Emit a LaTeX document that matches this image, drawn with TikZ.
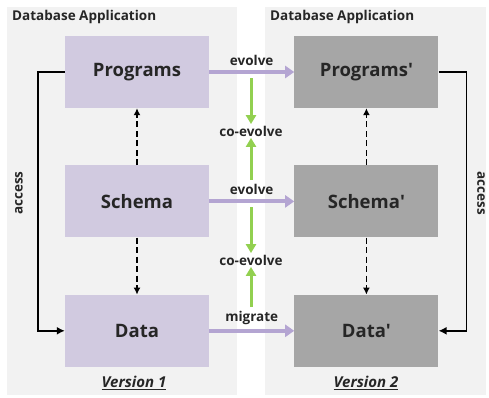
\documentclass[tikz,border=0pt]{standalone}
\usepackage{fontspec}
\setmainfont{Open Sans}
\usetikzlibrary{positioning,arrows.meta}
\definecolor{panelgray}{HTML}{F2F2F2}
\definecolor{oldfill}{HTML}{D1CAE0}
\definecolor{newfill}{HTML}{A6A6A6}
\definecolor{evolvecol}{HTML}{B4A5D2}
\definecolor{coevcol}{HTML}{92D050}
\definecolor{textcol}{HTML}{262626}
\tikzset{
    panel/.style = {fill = panelgray},
    oldbox/.style = {rectangle, fill = oldfill, minimum width = 144pt, minimum height = 72pt, text = textcol, font = \fontsize{18.5}{22}\selectfont\bfseries},
    newbox/.style = {oldbox, fill = newfill},
    header/.style = {anchor = west, text = textcol, inner sep = 2pt, font = \fontsize{13.5}{16}\selectfont\bfseries},
    tag/.style = {text = textcol, inner sep = 1.5pt, font = \fontsize{13.5}{16}\selectfont\bfseries},
    version/.style = {text = textcol, font = \fontsize{15}{18}\selectfont\bfseries\itshape},
    evolve/.style = {draw = evolvecol, line width = 4pt, -{Triangle[length = 9pt, width = 12pt]}},
    coevolve/.style = {draw = coevcol, line width = 3pt, -{Triangle[length = 9pt, width = 10pt]}},
    depends/.style = {line width = 1.5pt, dash pattern = on 6pt off 3.5pt, -{Latex[length = 7pt, width = 7pt]}},
    access/.style = {line width = 1.5pt, -{Latex[length = 8pt, width = 8pt]}}
}

\begin{document}
\begin{tikzpicture}[x = 1pt, y = -1pt]
    \useasboundingbox (0,0) rectangle (489,397);
    \fill [panel] (7,7) rectangle (237,395);
    \fill [panel] (265,7) rectangle (486,395);

    \node [header] (h1) at (10,17) {Database Application};
    \node [header] (h2) at (268,17) {Database Application};

    \node [oldbox] (p1) at (137,72) {Programs};
    \node [oldbox, below = 57pt of p1] (s1) {Schema};
    \node [oldbox, below = 57pt of s1] (d1) {Data};
    \node [newbox, right = 85pt of p1] (p2) {Programs\textquotesingle};
    \node [newbox, right = 85pt of s1] (s2) {Schema\textquotesingle};
    \node [newbox, right = 85pt of d1] (d2) {Data\textquotesingle};

    \draw [evolve] (p1) -- node [tag, above = 3pt] (e1) {evolve} (p2);
    \draw [evolve] (s1) -- node [tag, above = 3pt] (e2) {evolve} (s2);
    \draw [evolve] (d1) -- node [tag, above = 3pt] (m1) {migrate} (d2);

    \node [tag] (c1) at (251,131) {co-evolve};
    \node [tag] (c2) at (251,260) {co-evolve};
    \coordinate (g1) at (251,78);
    \coordinate (g2) at (251,180);
    \coordinate (g3) at (251,207);
    \coordinate (g4) at (251,307);
    \draw [coevolve] (g1) -- (c1.north);
    \draw [coevolve] (g2) -- (c1.south);
    \draw [coevolve] (g3) -- (c2.north);
    \draw [coevolve] (g4) -- (c2.south);

    \draw [depends] (s1) -- (p1);
    \draw [depends] (s1) -- (d1);
    \draw [depends] (s2) -- (p2);
    \draw [depends] (s2) -- (d2);

    \draw [access] (p1.west) -- ++(-27,0) |- (d1.west);
    \draw [access] (p2.east) -- ++(28,0) |- (d2.east);
    \node [tag, rotate = 90] (a1) at (19,193) {access};
    \node [tag, rotate = -90] (a2) at (481,193) {access};

    \node [version] (v1) at (134,383) {\underline{Version 1}};
    \node [version] (v2) at (366,383) {\underline{Version 2}};
\end{tikzpicture}
\end{document}
